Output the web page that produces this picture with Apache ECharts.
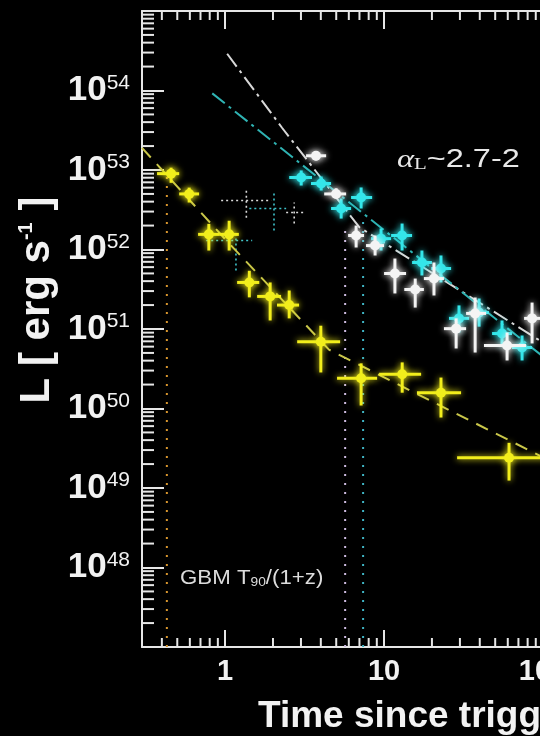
<!DOCTYPE html>
<html>
<head>
<meta charset="utf-8">
<script src="https://cdn.jsdelivr.net/npm/echarts@6/dist/echarts.min.js"></script>
<style>
  html, body { margin: 0; padding: 0; background: #000; }
  #chart { width: 540px; height: 736px; }
</style>
</head>
<body>
<div id="chart"></div>
<script>
// Luminosity light curves (log–log), three bands plus early-time points.

// Yellow band
const yellowT   = [0.457, 0.594, 0.79, 1.06, 1.42, 1.92, 2.53, 4.0, 7.17, 13.0, 22.8, 61.1];
const yellowTLo = [0.373, 0.514, 0.676, 0.917, 1.19, 1.59, 2.12, 2.84, 5.06, 9.3, 16.1, 28.8];
const yellowTHi = [0.514, 0.686, 0.917, 1.22, 1.64, 2.25, 2.92, 5.29, 9.04, 17.1, 30.5, 120];
const yellowL   = [9.0e52, 5.0e52, 1.55e52, 1.55e52, 3.85e51, 2.57e51, 2.0e51, 6.9e50, 2.4e50, 2.7e50, 1.58e50, 2.4e49];
const yellowLLo = [6.9e52, 3.9e52, 9.7e51, 9.7e51, 2.5e51, 1.28e51, 1.36e51, 2.84e50, 1.09e50, 1.58e50, 7.7e49, 1.24e49];
const yellowLHi = [1.07e53, 6.0e52, 2.1e52, 2.3e52, 5.4e51, 3.85e51, 3.05e51, 1.1e51, 3.7e50, 3.8e50, 2.45e50, 3.7e49];

// Cyan band
const cyanT   = [3.01, 4.02, 5.37, 7.17, 9.57, 12.98, 17.3, 22.8, 29.6, 39.6, 55.2, 73.8];
const cyanTLo = [2.53, 3.47, 4.64, 6.20, 8.28, 11.07, 15.0, 19.8, 25.6, 34.3, 47.8, 63.8];
const cyanTHi = [3.52, 4.64, 6.20, 8.41, 11.07, 15.0, 20.0, 26.4, 34.3, 45.7, 63.8, 85.3];
const cyanL   = [8.05e52, 6.76e52, 3.28e52, 4.51e52, 1.37e52, 1.50e52, 6.86e51, 5.77e51, 1.36e51, 1.61e51, 8.77e50, 5.85e50];
const cyanLLo = [6.38e52, 5.52e52, 2.45e52, 3.28e52, 9.71e51, 9.71e51, 4.71e51, 3.85e51, 9.04e50, 1.07e51, 6.03e50, 4.02e50];
const cyanLHi = [9.87e52, 8.28e52, 4.38e52, 6.03e52, 1.84e52, 2.12e52, 9.71e51, 8.41e51, 1.98e51, 2.42e51, 1.28e51, 8.28e50];

// White band
const whiteT   = [3.73, 4.99, 6.67, 8.78, 11.7, 15.7, 20.6, 28.4, 37.4, 59.4, 85.3];
const whiteTLo = [3.23, 4.2, 5.94, 7.7, 10.0, 13.4, 17.8, 23.8, 32.8, 42.5, 76];
const whiteTHi = [4.32, 5.77, 7.48, 10.0, 13.75, 17.8, 23.8, 32.8, 43.8, 78.2, 101];
const whiteL   = [1.51e53, 5.0e52, 1.5e52, 1.12e52, 4.99e51, 3.14e51, 4.31e51, 1.01e51, 1.57e51, 6.19e50, 1.36e51];
const whiteLLo = [1.32e53, 4.4e52, 1.06e52, 8.41e51, 2.8e51, 1.86e51, 2.64e51, 5.69e50, 5.06e50, 4.02e50, 6.58e50];
const whiteLHi = [1.66e53, 5.9e52, 2.0e52, 1.5e52, 7.7e51, 4.31e51, 6.86e51, 1.36e51, 2.49e51, 9.04e50, 2.15e51];

// Early-time points drawn with dotted error bars
const earlyWhiteT   = [1.36, 2.72];
const earlyWhiteTLo = [0.944, 2.42];
const earlyWhiteTHi = [1.95, 3.23];
const earlyWhiteL   = [4.13e52, 2.92e52];
const earlyWhiteLLo = [2.51e52, 2.12e52];
const earlyWhiteLHi = [5.85e52, 3.89e52];
const earlyCyanT   = [2.03, 1.17];
const earlyCyanTLo = [1.42, 0.76];
const earlyCyanTHi = [2.42, 1.48];
const earlyCyanL   = [3.28e52, 1.30e52];
const earlyCyanLLo = [1.73e52, 5.45e51];
const earlyCyanLHi = [5.2e52, 1.73e52];

// Power-law fit curves
const yellowFitT = [0.3, 1.0, 4.5, 1000];
const yellowFitL = [1.9e53, 1.35e52, 5.5e50, 2.4e48];
const whiteFitT  = [1.03, 2.28, 7.0, 95, 1000];
const whiteFitL  = [2.9e54, 3.4e53, 1.9e52, 7.2e50, 3.7e49];
const cyanFitT   = [0.83, 100, 1000];
const cyanFitL   = [9.2e53, 4.5e50, 1.15e49];

// GBM T90/(1+z) markers: time and top end of the dotted line
const t90Times = [0.43, 5.69, 7.38];
const t90Tops  = [9.0e52, 2.0e52, 2.7e52];
const t90Colors = ['#d8962e', '#cdbbe0', '#3fb4c4'];

// Axis ranges and tick decades
const xMin = 0.3, xMax = 1000;
const yMin = 1e47, yMax = 1e55;
const xDecades = [0.1, 1, 10, 100];
const yDecades = [1e47, 1e48, 1e49, 1e50, 1e51, 1e52, 1e53, 1e54];
const minorSteps = [2, 3, 4, 5, 6, 7, 8, 9];

const AXIS = '#e6e6e6';
const FONT = '"Liberation Sans", Arial, Helvetica, sans-serif';
const SERIF = '"Liberation Serif", "DejaVu Serif", serif';

const xMinor = [];
xDecades.forEach(d => minorSteps.forEach(m => { const v = d * m; if (v > xMin && v < xMax) xMinor.push([v, 1e50]); }));
const yMinor = [];
yDecades.forEach(d => minorSteps.forEach(m => { const v = d * m; if (v > yMin && v < yMax) yMinor.push([1, v]); }));

function zip(t, l) { return t.map((v, i) => [v, l[i]]); }

function crossSeries(name, t, tLo, tHi, L, LLo, LHi, color, dotted) {
  const data = t.map((v, i) => [v, L[i], tLo[i], tHi[i], LLo[i], LHi[i]]);
  return {
    type: 'custom', name, data, silent: true, z: dotted ? 3 : 5,
    encode: { x: [0, 2, 3], y: [1, 4, 5] },
    renderItem(params, api) {
      const c = api.coord([api.value(0), api.value(1)]);
      const xa = api.coord([api.value(2), api.value(1)])[0];
      const xb = api.coord([api.value(3), api.value(1)])[0];
      const ya = api.coord([api.value(0), api.value(4)])[1];
      const yb = api.coord([api.value(0), api.value(5)])[1];
      const st = dotted
        ? { stroke: color, lineWidth: 1.6, lineDash: [2, 3] }
        : { stroke: color, lineWidth: 3, shadowBlur: 6, shadowColor: color };
      const children = [
        { type: 'line', shape: { x1: xa, y1: c[1], x2: xb, y2: c[1] }, style: st },
        { type: 'line', shape: { x1: c[0], y1: ya, x2: c[0], y2: yb }, style: st }
      ];
      if (!dotted) {
        children.push({ type: 'circle', shape: { cx: c[0], cy: c[1], r: 5 },
          style: { fill: color, shadowBlur: 8, shadowColor: color } });
      }
      return { type: 'group', children };
    }
  };
}

function fitSeries(t, l, color, dash) {
  return {
    type: 'line', data: zip(t, l), symbol: 'none', silent: true, z: 4,
    lineStyle: { color, width: 2, type: dash }
  };
}

const series = [
  // minor ticks along bottom and top edges
  {
    type: 'custom', data: xMinor, silent: true, z: 10,
    renderItem(params, api) {
      const cs = params.coordSys;
      const x = api.coord([api.value(0), api.value(1)])[0];
      const st = { stroke: AXIS, lineWidth: 2 };
      return { type: 'group', children: [
        { type: 'line', shape: { x1: x, y1: cs.y + cs.height, x2: x, y2: cs.y + cs.height - 9 }, style: st },
        { type: 'line', shape: { x1: x, y1: cs.y, x2: x, y2: cs.y + 9 }, style: st }
      ] };
    }
  },
  // minor ticks along left edge
  {
    type: 'custom', data: yMinor, silent: true, z: 10,
    renderItem(params, api) {
      const cs = params.coordSys;
      const y = api.coord([api.value(0), api.value(1)])[1];
      return { type: 'line', shape: { x1: cs.x, y1: y, x2: cs.x + 12, y2: y },
        style: { stroke: AXIS, lineWidth: 2 } };
    }
  },
  // T90 dotted verticals
  ...t90Times.map((t, i) => ({
    type: 'line', data: [[t, yMin], [t, t90Tops[i]]], symbol: 'none', silent: true, z: 2,
    lineStyle: { color: t90Colors[i], width: 2, type: [2, 7] }
  })),
  fitSeries(yellowFitT, yellowFitL, '#c9c64a', [13, 9]),
  fitSeries(whiteFitT, whiteFitL, '#d8d8d8', [16, 5, 3, 5]),
  fitSeries(cyanFitT, cyanFitL, '#2fb3b3', [16, 5, 3, 5]),
  crossSeries('early white', earlyWhiteT, earlyWhiteTLo, earlyWhiteTHi, earlyWhiteL, earlyWhiteLLo, earlyWhiteLHi, '#d8d8d8', true),
  crossSeries('early cyan', earlyCyanT, earlyCyanTLo, earlyCyanTHi, earlyCyanL, earlyCyanLLo, earlyCyanLHi, '#3fc4cc', true),
  crossSeries('yellow', yellowT, yellowTLo, yellowTHi, yellowL, yellowLLo, yellowLHi, '#f2ee1c', false),
  crossSeries('cyan', cyanT, cyanTLo, cyanTHi, cyanL, cyanLLo, cyanLHi, '#34e6ea', false),
  crossSeries('white', whiteT, whiteTLo, whiteTHi, whiteL, whiteLLo, whiteLHi, '#f4f4f4', false)
];

const isDecade = v => Math.abs(Math.log10(v) - Math.round(Math.log10(v))) < 1e-6;

const chart = echarts.init(document.getElementById('chart'), null, { renderer: 'canvas' });
chart.setOption({
  backgroundColor: '#000',
  animation: false,
  grid: { left: 142, top: 11, width: 560, height: 636, containLabel: false, outerBoundsMode: 'none' },
  xAxis: [
    {
      type: 'log', logBase: 10, min: xMin, max: xMax, position: 'bottom',
      axisLine: { lineStyle: { color: AXIS, width: 2 } },
      axisTick: { inside: true, length: 17, lineStyle: { color: AXIS, width: 2 } },
      axisLabel: {
        color: '#f2f2f2', fontFamily: FONT, fontWeight: 'bold', fontSize: 29, margin: 10,
        showMinLabel: false, hideOverlap: false,
        formatter: v => (isDecade(v) && v >= 1 ? String(Math.round(v)) : '')
      },
      splitLine: { show: false }
    },
    {
      type: 'log', logBase: 10, min: xMin, max: xMax, position: 'top',
      axisLine: { lineStyle: { color: AXIS, width: 2 } },
      axisTick: { inside: true, length: 18, lineStyle: { color: AXIS, width: 2 } },
      axisLabel: { show: false },
      splitLine: { show: false }
    }
  ],
  yAxis: {
    type: 'log', logBase: 10, min: yMin, max: yMax,
    axisLine: { lineStyle: { color: AXIS, width: 2 } },
    axisTick: { inside: true, length: 22, lineStyle: { color: AXIS, width: 2 } },
    axisLabel: {
      color: '#f2f2f2', fontFamily: FONT, margin: 12,
      showMinLabel: false, showMaxLabel: false,
      formatter: v => (isDecade(v) ? '{b|10}{s|' + Math.round(Math.log10(v)) + '}' : ''),
      rich: {
        b: { fontFamily: FONT, fontWeight: 'bold', fontSize: 35, color: '#f2f2f2', lineHeight: 36 },
        s: { fontFamily: FONT, fontSize: 21, color: '#f2f2f2', verticalAlign: 'top', lineHeight: 36, padding: [0, 0, 12, 0] }
      }
    },
    splitLine: { show: false }
  },
  graphic: [
    {
      type: 'text', x: 37, y: 300, rotation: Math.PI / 2,
      style: {
        text: '{m|L [ erg s}{s|-1}{m| ]}', align: 'center', verticalAlign: 'middle',
        rich: {
          m: { fontFamily: FONT, fontWeight: 'bold', fontSize: 42, fill: '#f2f2f2' },
          s: { fontFamily: FONT, fontWeight: 'bold', fontSize: 20, fill: '#f2f2f2', verticalAlign: 'top', padding: [0, 0, 22, 0] }
        }
      }
    },
    {
      type: 'text', x: 258, y: 717,
      style: { text: 'Time since trigger [s]', fontFamily: FONT, fontWeight: 'bold', fontSize: 37,
        fill: '#f2f2f2', align: 'left', verticalAlign: 'middle' }
    },
    {
      type: 'text', x: 397, y: 160, scaleX: 1.3, originX: 0,
      style: {
        text: '{a|α}{l|L}{t|~2.7-2}', align: 'left', verticalAlign: 'middle',
        rich: {
          a: { fontFamily: SERIF, fontStyle: 'italic', fontSize: 25, fill: '#e8e8e8' },
          l: { fontFamily: SERIF, fontSize: 16, fill: '#e8e8e8', verticalAlign: 'bottom', padding: [7, 0, 0, 0] },
          t: { fontFamily: FONT, fontSize: 25, fill: '#e8e8e8' }
        }
      }
    },
    {
      type: 'text', x: 180, y: 578, scaleX: 1.06,
      style: {
        text: '{t|GBM T}{s|90}{t|/(1+z)}', align: 'left', verticalAlign: 'middle',
        rich: {
          t: { fontFamily: FONT, fontSize: 21, fill: '#dcdcdc' },
          s: { fontFamily: FONT, fontSize: 13, fill: '#dcdcdc', verticalAlign: 'bottom', padding: [7, 0, 0, 0] }
        }
      }
    }
  ],
  series
});
</script>
</body>
</html>
